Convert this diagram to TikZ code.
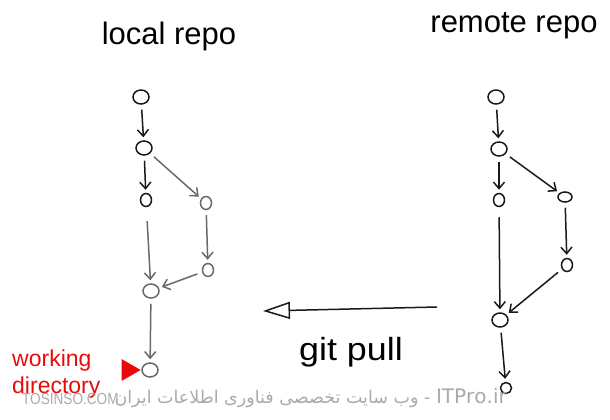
\documentclass[tikz,border=0pt]{standalone}
\usepackage{fontspec}
\setmainfont{Liberation Sans}
\newfontfamily\arabicfont[Script=Arabic]{DejaVu Sans}
\TeXXeTstate=1
\usetikzlibrary{shapes.geometric,arrows.meta}
\definecolor{ink}{RGB}{25,25,25}
\definecolor{pencil}{RGB}{105,105,105}
\definecolor{redink}{RGB}{235,10,10}
\definecolor{wmark}{RGB}{170,170,170}
\begin{document}
\begin{tikzpicture}[x=1pt,y=-1pt,
  commit/.style={ellipse, draw, line width=1.5pt, inner sep=0pt, minimum width=16pt, minimum height=14pt},
  smallc/.style={commit, minimum width=11pt, minimum height=13pt},
  link/.style={line width=1.5pt, -{Straight Barb[length=6.5pt,width=11pt]}, shorten >=3pt, shorten <=5pt},
  title/.style={font=\fontsize{31}{36}\selectfont, inner sep=0pt, anchor=base},
  redtext/.style={text=redink, font=\fontsize{23}{26}\selectfont, inner sep=0pt, anchor=base west}]
\useasboundingbox[fill=white] (0,0) rectangle (610,420);

% titles
\node[title] (tl) at (169,45) {local repo};
\node[title] (tr) at (514,33) {remote repo};

% local repo commits
\node[commit, draw=ink] (L1) at (141,97) {};
\node[commit, draw=ink] (L2) at (144,148) {};
\node[smallc, draw=ink] (L3) at (146,200) {};
\node[smallc, draw=pencil] (L4) at (206,203) {};
\node[smallc, draw=pencil] (L5) at (208,270) {};
\node[commit, draw=pencil] (L6) at (151,291) {};
\node[commit, draw=pencil] (L7) at (150,370) {};

\draw[link, ink] (L1) -- (L2);
\draw[link, ink] (L2) -- (L3);
\draw[link, pencil] (L2) -- (L4);
\draw[link, pencil, shorten <=14pt] (L3) -- (L6);
\draw[link, pencil] (L4) -- (L5);
\draw[link, pencil] (L5) -- (L6);
\draw[link, pencil] (L6) -- (L7);

% remote repo commits
\node[commit, draw=ink] (R1) at (496,97) {};
\node[commit, draw=ink] (R2) at (499,149) {};
\node[smallc, draw=ink] (R3) at (499,200) {};
\node[smallc, draw=ink, minimum width=14pt, minimum height=10pt] (R4) at (565,197) {};
\node[smallc, draw=ink] (R5) at (567,265) {};
\node[commit, draw=ink] (R6) at (500,320) {};
\node[smallc, draw=ink, minimum width=11pt, minimum height=11pt] (R7) at (506,388) {};

\draw[link, ink] (R1) -- (R2);
\draw[link, ink] (R2) -- (R3);
\draw[link, ink] (R2) -- (R4);
\draw[link, ink, shorten <=10pt] (R3) -- (R6);
\draw[link, ink] (R4) -- (R5);
\draw[link, ink] (R5) -- (R6);
\draw[link, ink] (R6) -- (R7);

% git pull
\coordinate (gpS) at (437,307);
\coordinate (gpE) at (263,311);
\draw[ink, line width=1.5pt, -{Triangle[open, length=27pt, width=17pt]}] (gpS) -- (gpE);
\node[title, font=\fontsize{32}{36}\selectfont, xscale=1.12] (gp) at (351,360) {git pull};

% working directory
\node[redtext] (wk) at (12,366) {working};
\node[redtext] (dr) at (12,393) {directory};
\node[fill=redink, isosceles triangle, isosceles triangle apex angle=60, inner sep=0pt, minimum width=19pt, minimum height=19pt, anchor=apex] (tri) at (141,370) {};

% watermark
\node[anchor=base west, text=wmark, inner sep=0pt, font=\fontsize{16}{18}\selectfont, xscale=0.85] (w1) at (22,404) {TOSINSO.COM};
\node[anchor=base east, text=wmark, inner sep=0pt, font=\fontsize{17.5}{20}\selectfont] (w2) at (507,403) {\arabicfont\beginR\beginL{\fontsize{20}{22}\selectfont ITPro.ir}\endL{} - وب سایت تخصصی فناوری اطلاعات ایران\endR};
\end{tikzpicture}
\end{document}
